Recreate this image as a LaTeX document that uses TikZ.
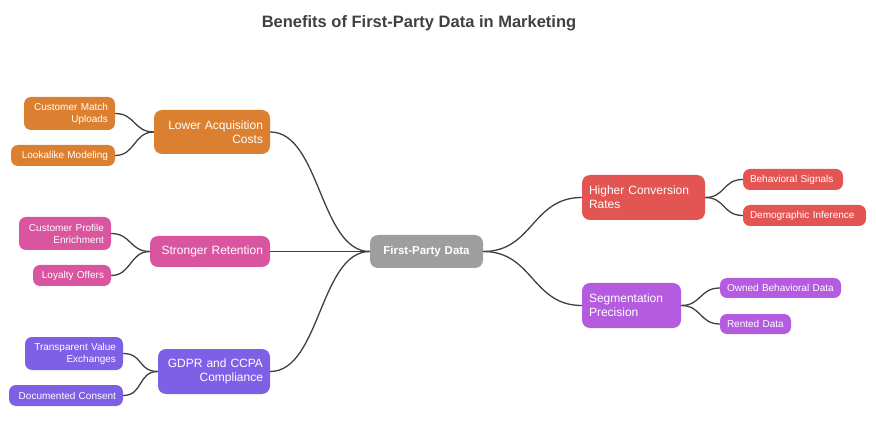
\documentclass[tikz,border=0pt]{standalone}
\usepackage{fontspec}
\setmainfont{Liberation Sans}
\begin{document}
\hyphenpenalty=10000
\newcommand\bx[7]{\node[#6, minimum width={(#4-#2)*1pt}, minimum height={(#5-#3)*1pt}, text width={(#4-#2-14)*1pt}] (#1) at ({(#2+#4)/2},{(#3+#5)/2}) {#7};}
\begin{tikzpicture}[x=1pt,y=-1pt,
 box/.style={rounded corners=8pt, draw=none, inner sep=0pt, text=white, font=\fontsize{12}{14}\selectfont, align=left},
 leaf/.style={box, rounded corners=7pt, font=\fontsize{10}{12}\selectfont},
 L/.style={align=right},
 con/.style={draw=black!75, line width=1.3pt}]
\useasboundingbox (0,0) rectangle (876,422);
\definecolor{cgray}{HTML}{9E9E9E}\definecolor{corg}{HTML}{DB8030}
\definecolor{cpink}{HTML}{D9559F}\definecolor{cpur}{HTML}{7E60E6}
\definecolor{cred}{HTML}{E25552}\definecolor{cvio}{HTML}{B45BE0}
\node[font=\bfseries\fontsize{16.5}{19}\selectfont, text=black!75] (t) at (419,23) {Benefits of First-Party Data in Marketing};
\bx{c}{370}{235}{483}{268}{box,fill=cgray,align=center,font=\bfseries\fontsize{11.5}{13}\selectfont}{First-Party Data}
\bx{a}{154}{110}{270}{154}{box,L,fill=corg}{Lower Acquisition\\Costs}
\bx{a1}{24}{97}{115}{130}{leaf,L,fill=corg}{Customer Match\\Uploads}
\bx{a2}{11}{145}{115}{166}{leaf,L,fill=corg}{Lookalike Modeling}
\bx{b}{150}{236}{270}{267}{box,L,fill=cpink}{Stronger Retention}
\bx{b1}{19}{217}{111}{250}{leaf,L,fill=cpink}{Customer Profile\\Enrichment}
\bx{b2}{33}{265}{111}{286}{leaf,L,fill=cpink}{Loyalty Offers}
\bx{g}{158}{349}{270}{394}{box,L,fill=cpur}{GDPR and CCPA\\Compliance}
\bx{g1}{25}{337}{123}{370}{leaf,L,fill=cpur}{Transparent Value\\Exchanges}
\bx{g2}{9}{385}{123}{406}{leaf,L,fill=cpur}{Documented Consent}
\bx{h}{582}{175}{705}{220}{box,fill=cred}{Higher Conversion\\Rates}
\bx{h1}{743}{169}{843}{190}{leaf,fill=cred}{Behavioral Signals}
\bx{h2}{743}{205}{866}{226}{leaf,fill=cred}{Demographic Inference}
\bx{s}{582}{283}{681}{328}{box,fill=cvio}{Segmentation\\Precision}
\bx{s1}{720}{278}{841}{298}{leaf,fill=cvio}{Owned Behavioral Data}
\bx{s2}{720}{314}{791}{334}{leaf,fill=cvio}{Rented Data}
\foreach \n in {a,b,g} \draw[con] (c.west) .. controls +(-50,0) and +(50,0) .. (\n.east);
\foreach \n in {h,s} \draw[con] (c.east) .. controls +(50,0) and +(-50,0) .. (\n.west);
\foreach \p/\n in {a/a1,a/a2,b/b1,b/b2,g/g1,g/g2} \draw[con] (\p.west) .. controls +(-20,0) and +(20,0) .. (\n.east);
\foreach \p/\n in {h/h1,h/h2,s/s1,s/s2} \draw[con] (\p.east) .. controls +(20,0) and +(-20,0) .. (\n.west);
\end{tikzpicture}
\end{document}
